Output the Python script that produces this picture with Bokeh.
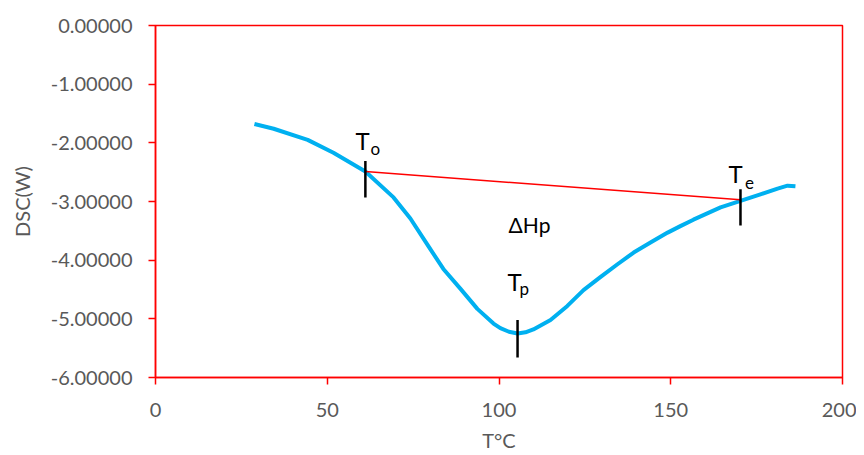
from bokeh.plotting import figure
from bokeh.models import Range1d, FixedTicker, NumeralTickFormatter
from bokeh.core.properties import value
from bokeh.embed import file_html
from bokeh.resources import INLINE

# DSC curve (temperature °C, DSC W)
temperature = [28.8, 34.4, 44.3, 51.8, 61.1, 69.3, 74.2, 79.2, 83.8, 88.8, 93.7,
               98.4, 100.4, 102.9, 105.4, 107.7, 110.0, 115.0, 119.9, 124.6, 129.5,
               134.5, 139.2, 144.1, 149.1, 152.8, 156.6, 164.5, 170.3, 176.1, 181.1,
               184.0, 186.3]
dsc = [-1.68, -1.76, -1.95, -2.17, -2.49, -2.93, -3.29, -3.74, -4.15, -4.49, -4.83,
       -5.08, -5.16, -5.22, -5.25, -5.23, -5.18, -5.02, -4.78, -4.51, -4.29,
       -4.07, -3.87, -3.70, -3.53, -3.42, -3.31, -3.10, -2.99, -2.88, -2.78,
       -2.73, -2.74]

# baseline between onset and end
baseline_x = [61.1, 170.3]
baseline_y = [-2.49, -2.97]

# vertical markers at To, Tp, Te
marker_x = [61.1, 105.4, 170.3]
marker_y0 = [-2.31, -5.02, -2.79]
marker_y1 = [-2.93, -5.66, -3.41]

# annotation labels
main_text = ["T", "T", "T"]
main_x = [58.2, 102.5, 166.8]
main_y = [-1.96, -4.36, -2.53]
sub_text = ["o", "p", "e"]
sub_x = [62.6, 106.0, 171.6]
sub_y = [-2.10, -4.48, -2.68]
area_text = ["ΔHp"]
area_x = [102.8]
area_y = [-3.39]

x_ticks = [0, 50, 100, 150, 200]
y_ticks = [0, -1, -2, -3, -4, -5, -6]

FONT = "Lato"
GRAY = "#595959"
RED = "#FF0000"

p = figure(width=856, height=454, output_backend="svg", toolbar_location=None,
           x_range=Range1d(0, 200), y_range=Range1d(-6, 0),
           min_border_left=155, min_border_top=25, min_border_right=14,
           min_border_bottom=72)
p.outline_line_color = RED
p.outline_line_width = 1.5
p.xgrid.visible = False
p.ygrid.visible = False

for ax in (p.xaxis[0], p.yaxis[0]):
    ax.axis_line_color = RED
    ax.axis_line_width = 1.5
    ax.major_tick_line_color = RED
    ax.major_tick_line_width = 1.5
    ax.major_tick_in = 0
    ax.major_tick_out = 7
    ax.minor_tick_line_color = None
    ax.major_label_text_color = GRAY
    ax.major_label_text_font = FONT
    ax.major_label_text_font_size = "20px"
    ax.axis_label_text_color = GRAY
    ax.axis_label_text_font = FONT
    ax.axis_label_text_font_size = "20px"
    ax.axis_label_text_font_style = "normal"

p.xaxis.ticker = FixedTicker(ticks=x_ticks)
p.yaxis.ticker = FixedTicker(ticks=y_ticks)
p.yaxis.formatter = NumeralTickFormatter(format="0.00000")
p.xaxis.axis_label = "T°C"
p.yaxis.axis_label = "DSC(W)"
p.xaxis.major_label_standoff = 18
p.yaxis.major_label_standoff = 16
p.xaxis.axis_label_standoff = 8
p.yaxis.axis_label_standoff = 14

p.line(temperature, dsc, line_color="#00B0F0", line_width=4, line_join="round")
p.line(baseline_x, baseline_y, line_color=RED, line_width=1.5)
p.segment(x0=marker_x, y0=marker_y0, x1=marker_x, y1=marker_y1,
          line_color="black", line_width=2.5)

p.text(x=main_x, y=main_y, text=main_text, text_font=value(FONT),
       text_font_size="24px", text_color="black", text_baseline="alphabetic",
       text_align="left")
p.text(x=sub_x, y=sub_y, text=sub_text, text_font=value(FONT),
       text_font_size="17px", text_color="black", text_baseline="alphabetic",
       text_align="left")
p.text(x=area_x, y=area_y, text=area_text, text_font=value(FONT),
       text_font_size="21px", text_color="black", text_baseline="alphabetic",
       text_align="left")

open("out.html", "w").write(file_html(p, INLINE))
